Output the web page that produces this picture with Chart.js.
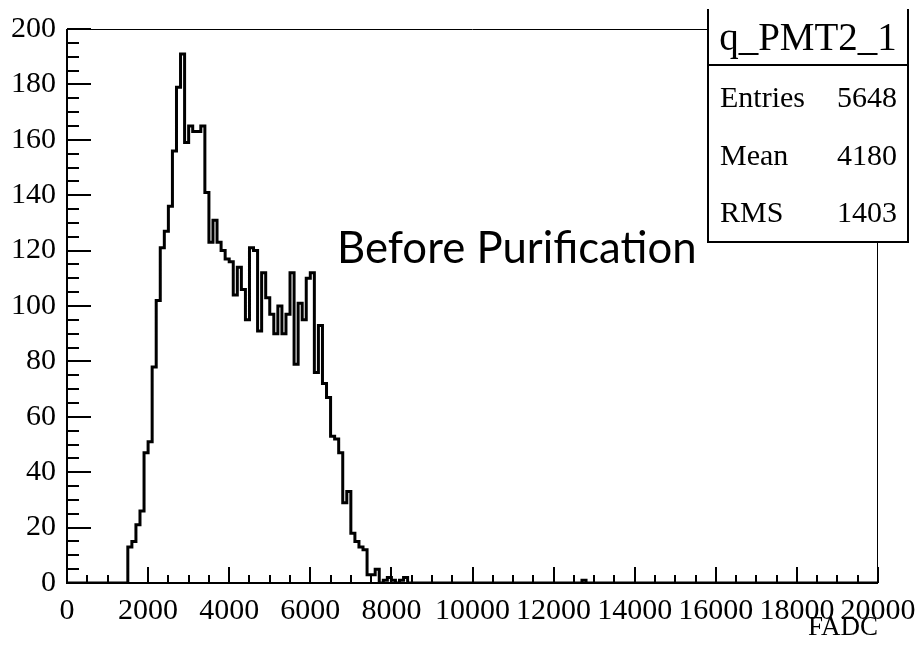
<!DOCTYPE html>
<html>
<head>
<meta charset="utf-8">
<script src="https://cdn.jsdelivr.net/npm/chart.js@4.4.0/dist/chart.umd.min.js"></script>
<style>
  html, body { margin: 0; padding: 0; background: #fff; }
  #wrap { width: 920px; height: 651px; }
</style>
</head>
<body>
<div id="wrap"><canvas id="hist" width="920" height="651"></canvas></div>
<script>
// q_PMT2_1 histogram, 100 FADC per bin, first filled bin starts at 1500
const binWidth = 100;
const firstBin = 1500;
const counts = [
  13, 15, 21, 26, 47, 51, 78, 102, 121, 127,
  136, 156, 179, 191, 159, 165, 163, 163, 165, 141,
  123, 131, 123, 120, 117, 116, 104, 114, 106, 95,
  121, 120, 91, 112, 103, 97, 90, 100, 90, 97,
  112, 79, 101, 95, 110, 112, 76, 93, 72, 67,
  53, 52, 47, 29, 33, 18, 15, 13, 12, 3,
  3, 5, 0, 1, 2, 1, 0, 1, 2, 0
];
// lone entries far out in the tail
const strayBins = [12700];
const strayCounts = [1];

const xTicks = [0, 2000, 4000, 6000, 8000, 10000, 12000, 14000, 16000, 18000, 20000];
const yTicks = [0, 20, 40, 60, 80, 100, 120, 140, 160, 180, 200];

const statsTitle = "q_PMT2_1";
const statsNames = ["Entries", "Mean", "RMS"];
const statsValues = ["5648", "4180", "1403"];
const note = "Before Purification";

const xMax = 20000;
const nBins = xMax / binWidth;
const content = new Array(nBins).fill(0);
counts.forEach((c, i) => { content[firstBin / binWidth + i] = c; });
strayBins.forEach((b, i) => { content[b / binWidth] = strayCounts[i]; });
const points = content.map((c, i) => ({x: i * binWidth, y: c}));
points.push({x: xMax, y: content[nBins - 1]});

const serif = "'Liberation Serif', 'Times New Roman', serif";

// ROOT style: frame, inward ticks, stats box and the slide note
const rootDecor = {
  id: 'rootDecor',
  afterDatasetsDraw(chart) {
    const {ctx, chartArea: a, scales: {x, y}} = chart;
    ctx.save();
    ctx.strokeStyle = '#000';
    ctx.lineWidth = 1;
    ctx.beginPath();
    ctx.moveTo(a.left, a.top + 0.5);
    ctx.lineTo(a.right, a.top + 0.5);
    ctx.moveTo(a.right - 0.5, a.top);
    ctx.lineTo(a.right - 0.5, a.bottom);
    ctx.stroke();

    ctx.lineWidth = 2;
    ctx.beginPath();
    ctx.moveTo(a.left, a.top);
    ctx.lineTo(a.left, a.bottom);
    ctx.lineTo(a.right, a.bottom);
    for (let v = 0; v <= xMax; v += 500) {
      const px = Math.round(x.getPixelForValue(v));
      const len = v % 2000 === 0 ? 16 : 8;
      ctx.moveTo(px, a.bottom);
      ctx.lineTo(px, a.bottom - len);
    }
    for (let v = 0; v <= 200; v += 5) {
      const py = Math.round(y.getPixelForValue(v));
      const len = v % 20 === 0 ? 24 : 12;
      ctx.moveTo(a.left, py);
      ctx.lineTo(a.left + len, py);
    }
    ctx.stroke();
    ctx.restore();
  },
  afterDraw(chart) {
    const {ctx} = chart;
    ctx.save();
    // stats box
    const bx = 708, by = 9, bw = 200, bh = 233, split = 65;
    ctx.fillStyle = '#fff';
    ctx.fillRect(bx, by, bw, bh);
    ctx.strokeStyle = '#000';
    ctx.lineWidth = 2;
    ctx.beginPath();
    ctx.moveTo(bx, by);
    ctx.lineTo(bx, by + bh);
    ctx.lineTo(bx + bw, by + bh);
    ctx.lineTo(bx + bw, by);
    ctx.moveTo(bx, split);
    ctx.lineTo(bx + bw, split);
    ctx.stroke();

    ctx.fillStyle = '#000';
    ctx.textBaseline = 'alphabetic';
    ctx.font = '39px ' + serif;
    ctx.textAlign = 'center';
    ctx.fillText(statsTitle, bx + bw / 2, 50);
    ctx.font = '30px ' + serif;
    statsNames.forEach((name, i) => {
      const ty = 107 + i * 57.5;
      ctx.textAlign = 'left';
      ctx.fillText(name, 720, ty);
      ctx.textAlign = 'right';
      ctx.fillText(statsValues[i], 897, ty);
    });

    // text pasted on the slide
    ctx.font = '100px Lato, sans-serif';
    const w100 = ctx.measureText(note).width;
    ctx.font = (100 * 360 / w100).toFixed(1) + 'px Lato, sans-serif';
    ctx.textAlign = 'left';
    ctx.fillText(note, 337, 263);
    ctx.restore();
  }
};

new Chart(document.getElementById('hist'), {
  type: 'line',
  data: {
    datasets: [{
      label: statsTitle,
      data: points,
      stepped: true,
      borderColor: '#000',
      borderWidth: 3,
      borderCapStyle: 'butt',
      borderJoinStyle: 'miter',
      pointRadius: 0,
      fill: false
    }]
  },
  options: {
    responsive: false,
    animation: false,
    events: [],
    layout: {padding: {top: 29, right: 42, bottom: 0, left: 0}},
    plugins: {legend: {display: false}, tooltip: {enabled: false}},
    scales: {
      x: {
        type: 'linear',
        min: 0,
        max: xMax,
        afterBuildTicks: s => { s.ticks = xTicks.map(v => ({value: v})); },
        afterFit: s => { s.height = 68; s.paddingLeft = 0; s.paddingRight = 0; },
        grid: {display: false, drawTicks: false},
        border: {display: false},
        ticks: {color: '#000', padding: 10, autoSkip: false, maxRotation: 0,
                font: {family: serif, size: 30}, callback: v => String(v)},
        title: {display: true, text: 'FADC', align: 'end', color: '#000',
                font: {family: serif, size: 27}, padding: {top: 0, bottom: 7}}
      },
      y: {
        min: 0,
        max: 200,
        afterBuildTicks: s => { s.ticks = yTicks.map(v => ({value: v})); },
        afterFit: s => { s.width = 67; s.paddingTop = 0; s.paddingBottom = 0; },
        grid: {display: false, drawTicks: false},
        border: {display: false},
        ticks: {color: '#000', padding: 11, font: {family: serif, size: 30},
                callback: v => String(v)}
      }
    }
  },
  plugins: [rootDecor]
});
</script>
</body>
</html>
